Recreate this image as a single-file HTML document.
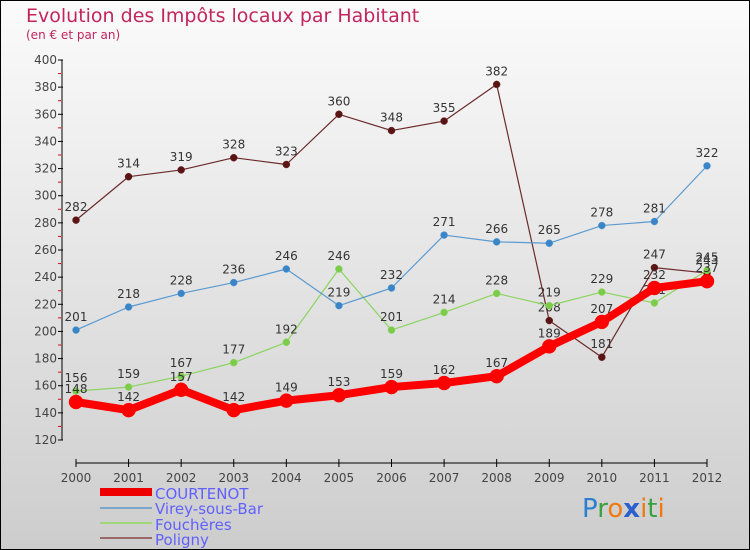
<!DOCTYPE html>
<html><head><meta charset="utf-8"><style>
body{margin:0}
#c{width:750px;height:550px;position:relative;overflow:hidden;font-family:"DejaVu Sans","Liberation Sans",sans-serif}
</style></head><body>
<div id="c">
<svg id="s" width="750" height="550" xmlns="http://www.w3.org/2000/svg">
<defs><linearGradient id="bg" x1="0" y1="0" x2="0" y2="1"><stop offset="0" stop-color="#fbfbfb"/><stop offset="1" stop-color="#cdcdcd"/></linearGradient></defs>
<rect x="0.5" y="0.5" width="749" height="549" fill="url(#bg)" stroke="#000"/>
<text x="26" y="22" font-size="19" fill="#c2255c">Evolution des Impôts locaux par Habitant</text>
<text x="26" y="39" font-size="12" fill="#c2255c">(en € et par an)</text>
<g id="axes"></g><g id="series"></g>
<g>
<rect x="100" y="488" width="52" height="8" fill="#e00"/>
<text x="155" y="499" font-size="15" fill="#6060ff">COURTENOT</text>
<rect x="100" y="507" width="52" height="2" fill="#7ba7cc"/>
<text x="155" y="514" font-size="15" fill="#6060ff">Virey-sous-Bar</text>
<rect x="100" y="522" width="52" height="2" fill="#9ed67a"/>
<text x="155" y="530" font-size="15" fill="#6060ff">Fouchères</text>
<rect x="100" y="537" width="52" height="2" fill="#9a6a6a"/>
<text x="155" y="545" font-size="15" fill="#6060ff">Poligny</text>
</g>
<text x="582" y="517" font-size="26" font-family="DejaVu Sans"><tspan fill="#2a7fd0">P</tspan><tspan fill="#3aa040">r</tspan><tspan fill="#f07a10">o</tspan><tspan fill="#2a5fd0" font-weight="bold">x</tspan><tspan fill="#f07a10">i</tspan><tspan fill="#3aa040">t</tspan><tspan fill="#f07a10">i</tspan></text>
</svg></div>
<script>
const years=["2000","2001","2002","2003","2004","2005","2006","2007","2008","2009","2010","2011","2012"];
const yTicks=[120,140,160,180,200,220,240,260,280,300,320,340,360,380,400];
const courtenot=[148,142,157,142,149,153,159,162,167,189,207,232,237];
const virey=[201,218,228,236,246,219,232,271,266,265,278,281,322];
const foucheres=[156,159,167,177,192,246,201,214,228,219,229,221,245];
const poligny=[282,314,319,328,323,360,348,355,382,208,181,247,243];
const NS="http://www.w3.org/2000/svg";
const X=i=>76+i*(707-76)/(years.length-1);
const Y=v=>440-(v-120)*(380/280);
function mk(tag,attrs,parent){const e=document.createElementNS(NS,tag);for(const k in attrs)e.setAttribute(k,attrs[k]);parent.appendChild(e);return e;}
const ax=document.getElementById('axes');
let l=mk('line',{x1:62,y1:60,x2:62,y2:440,stroke:'#000'},ax);


yTicks.forEach((v,i)=>{const y=Y(v);
 mk('line',{x1:58,y1:y,x2:63,y2:y,stroke:'#000'},ax);
 if(i<yTicks.length-1)mk('line',{x1:58,y1:(y+Y(yTicks[i+1]))/2,x2:61,y2:(y+Y(yTicks[i+1]))/2,stroke:'#e00'},ax);
 const t=mk('text',{x:57,y:y+4,'font-size':12,'text-anchor':'end',fill:'#444'},ax);t.textContent=v;
 
 });
l=mk('line',{x1:76,y1:463,x2:707,y2:463,stroke:'#000'},ax);


years.forEach((yr,i)=>{mk('line',{x1:X(i),y1:459,x2:X(i),y2:467,stroke:'#000'},ax);
 const t=mk('text',{x:X(i),y:482,'font-size':12,'text-anchor':'middle',fill:'#444'},ax);t.textContent=yr;
 
 });
const sg=document.getElementById('series');
function draw(data,name,color,w,r,dot){
 const g=mk('g',{},sg);
 
 
 mk('polyline',{points:data.map((v,i)=>X(i)+','+Y(v)).join(' '),fill:'none',stroke:color,'stroke-width':w,'stroke-linejoin':'round'},g);
 data.forEach((v,i)=>{const c=mk('circle',{cx:X(i),cy:Y(v),r:r,fill:dot,stroke:color,'stroke-width':0.5},g);
  
  
  const t=mk('text',{x:X(i),y:Y(v)-9,'font-size':12,'text-anchor':'middle',fill:'#333'},g);t.textContent=v;
  
  });
}
draw(poligny,'poligny','#6b2a2a',1.2,3.5,'#5a1414');
draw(foucheres,'foucheres','#8cd460',1.2,3.5,'#7ccc4a');
draw(virey,'virey','#5a9ad0',1.2,3.5,'#3a85c8');
draw(courtenot,'courtenot','#f00',8,7,'#f00');
</script>
</body></html>
